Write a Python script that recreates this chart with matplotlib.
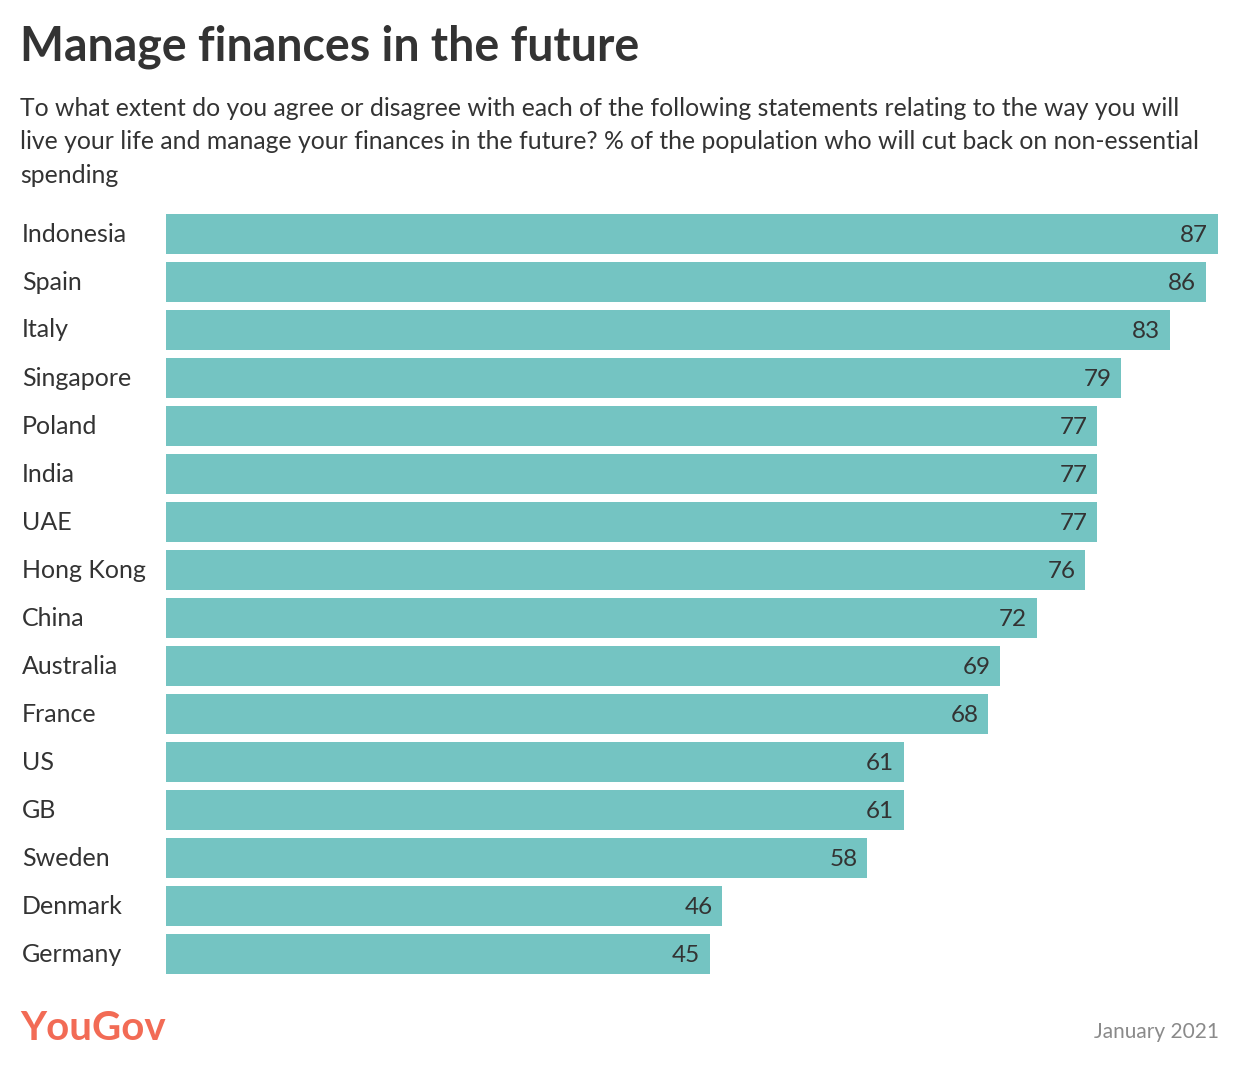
import matplotlib.pyplot as plt

countries = ["Indonesia", "Spain", "Italy", "Singapore", "Poland", "India", "UAE",
             "Hong Kong", "China", "Australia", "France", "US", "GB", "Sweden",
             "Denmark", "Germany"]
values = [87, 86, 83, 79, 77, 77, 77, 76, 72, 69, 68, 61, 61, 58, 46, 45]

title = "Manage finances in the future"
subtitle = ("To what extent do you agree or disagree with each of the following statements relating to the way you will\n"
            "live your life and manage your finances in the future? % of the population who will cut back on non-essential\n"
            "spending")

W, H = 1240, 1070
bar_color = "#74c4c2"
text_color = "#333333"
plt.rcParams['font.family'] = ['Lato', 'DejaVu Sans']

fig = plt.figure(figsize=(W / 100, H / 100), dpi=100)
# 48 px per row, bars 40 px tall
ax = fig.add_axes([166 / W, 1 - 978 / H, (1218 - 166) / W, 768 / H])

ypos = list(range(len(countries)))
ax.barh(ypos, values, height=40 / 48, color=bar_color)
ax.set_xlim(0, max(values))
ax.set_ylim(len(countries) - 0.5, -0.5)
ax.axis("off")

for y, v, c in zip(ypos, values, countries):
    ax.text(v - 0.8, y + 0.04, str(v), ha="right", va="center", fontsize=17.5,
            color=text_color)
    fig.text(22 / W, 1 - (234 + 48 * y) / H, c, ha="left", va="center",
             fontsize=18, color=text_color)

fig.text(20 / W, 1 - 47 / H, title, ha="left", va="center", fontsize=33.5,
         fontweight="bold", color=text_color)
fig.text(20 / W, 1 - 97 / H, subtitle, ha="left", va="top", fontsize=17.8,
         color=text_color, linespacing=1.55)

fig.text(20 / W, 1 - 1029 / H, "YouGov", ha="left", va="center", fontsize=29,
         fontweight="bold", color="#f26b55")
fig.text(1219 / W, 1 - 1032 / H, "January 2021", ha="right", va="center",
         fontsize=15, color="#8a8a8a")

fig.savefig("out.png", dpi=100, facecolor="white")
